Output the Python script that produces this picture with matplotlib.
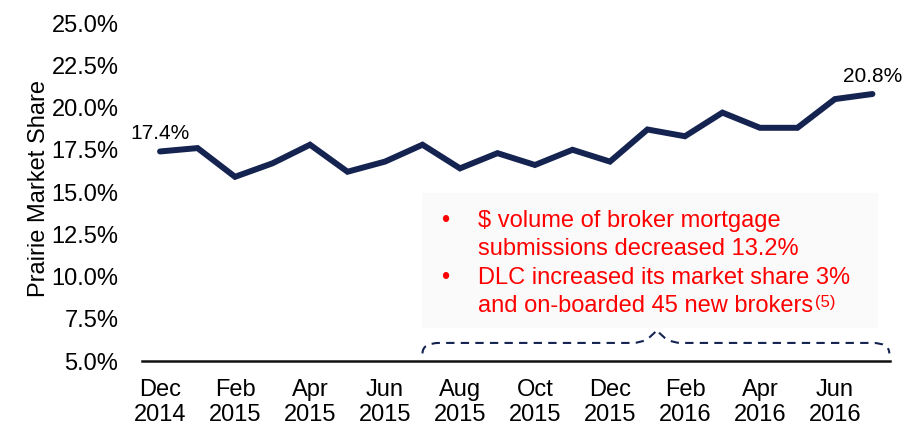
import matplotlib
matplotlib.use("Agg")
import matplotlib.pyplot as plt
from matplotlib.path import Path
from matplotlib.patches import PathPatch, Rectangle

plt.rcParams['font.family'] = ['Liberation Sans', 'DejaVu Sans']

# ---- data ----
months = ["Dec 2014", "Jan 2015", "Feb 2015", "Mar 2015", "Apr 2015", "May 2015",
          "Jun 2015", "Jul 2015", "Aug 2015", "Sep 2015", "Oct 2015", "Nov 2015",
          "Dec 2015", "Jan 2016", "Feb 2016", "Mar 2016", "Apr 2016", "May 2016",
          "Jun 2016", "Jul 2016"]
share = [17.4, 17.6, 15.9, 16.7, 17.8, 16.2, 16.8, 17.8, 16.4, 17.3,
         16.6, 17.5, 16.8, 18.7, 18.3, 19.7, 18.8, 18.8, 20.5, 20.8]
tick_idx = [0, 2, 4, 6, 8, 10, 12, 14, 16, 18]
tick_labels = ["Dec\n2014", "Feb\n2015", "Apr\n2015", "Jun\n2015", "Aug\n2015",
               "Oct\n2015", "Dec\n2015", "Feb\n2016", "Apr\n2016", "Jun\n2016"]
y_ticks = [5.0, 7.5, 10.0, 12.5, 15.0, 17.5, 20.0, 22.5, 25.0]
y_label = "Prairie Market Share"
callout_lines = ["$ volume of broker mortgage", "submissions decreased 13.2%",
                 "DLC increased its market share 3%", "and on-boarded 45 new brokers"]
callout_bullets = [True, False, True, False]
footnote = "(5)"

NAVY = "#152350"
RED = "#FF0000"

fig = plt.figure(figsize=(9.17, 4.28), dpi=100)
ax = fig.add_axes([0.1549, 0.1565, 0.8157, 0.7897])

x = list(range(len(share)))
ax.plot(x, share, color=NAVY, lw=4.3, solid_joinstyle='miter', solid_capstyle='round', zorder=3)

ax.set_xlim(-0.48, 19.47)
ax.set_ylim(5, 25)
ax.set_yticks(y_ticks)
ax.set_yticklabels([f"{v:.1f}%" for v in y_ticks])
ax.set_xticks(tick_idx)
ax.set_xticklabels(tick_labels)
ax.tick_params(axis='both', length=0, labelsize=17, colors='black')
ax.tick_params(axis='y', pad=17)
ax.tick_params(axis='x', pad=13)

for s in ['left', 'right', 'top']:
    ax.spines[s].set_visible(False)
ax.spines['bottom'].set_linewidth(1.8)
ax.spines['bottom'].set_color('#111111')

ax.set_ylabel(y_label, fontsize=17)
ax.yaxis.set_label_coords(-0.123, 0.51)

# end labels
for i in (0, len(share) - 1):
    ax.annotate(f"{share[i]:.1f}%", xy=(x[i], share[i]), xytext=(0, 9),
                textcoords='offset points', ha='center', va='baseline', fontsize=15)

# callout box
ax.add_patch(Rectangle((6.99, 6.95), 19.15 - 6.99, 14.94 - 6.95,
                       facecolor='#FAFAFA', edgecolor='none', zorder=1))

baselines = [0.4696, 0.4042, 0.3364, 0.2710]
last = None
for line, bullet, yb in zip(callout_lines, callout_bullets, baselines):
    if bullet:
        fig.text(0.485, yb, "\u2022", color=RED, fontsize=17, ha='center', va='baseline')
    last = fig.text(0.5213, yb, line, color=RED, fontsize=17, ha='left', va='baseline')
ax.annotate(footnote, xy=(1, 1), xycoords=last, xytext=(1, 0),
            textcoords='offset points', ha='left', va='top', color=RED, fontsize=12)

# dashed brace
verts = [(7.0, 5.45), (7.0, 6.07), (7.45, 6.07), (12.6, 6.07),
         (13.0, 6.07), (13.25, 6.85), (13.5, 6.07), (13.9, 6.07),
         (19.0, 6.07), (19.45, 6.07), (19.45, 5.45)]
codes = [Path.MOVETO, Path.CURVE3, Path.CURVE3, Path.LINETO,
         Path.CURVE3, Path.CURVE3, Path.CURVE3, Path.CURVE3,
         Path.LINETO, Path.CURVE3, Path.CURVE3]
ax.add_patch(PathPatch(Path(verts, codes), facecolor='none', edgecolor=NAVY,
                       lw=1.5, linestyle=(0, (4, 3)), clip_on=False, zorder=2))

fig.savefig("out.png", dpi=100)
